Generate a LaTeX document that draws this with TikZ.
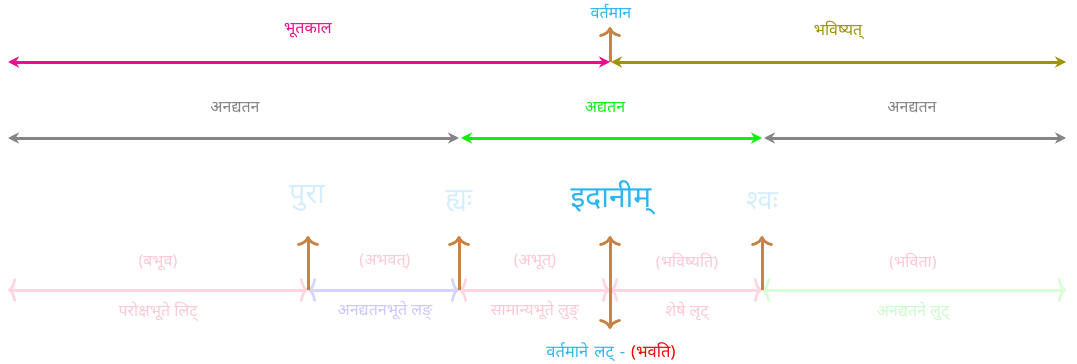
\documentclass[tikz,border=0pt]{standalone}
\usepackage{fontspec}
\setmainfont[Script=Devanagari]{Noto Sans}
\usetikzlibrary{arrows.meta,bending}
\definecolor{bhuta}{HTML}{EE0C8E}
\definecolor{bhav}{HTML}{A09400}
\definecolor{anad}{HTML}{858585}
\definecolor{adya}{HTML}{10F010}
\definecolor{brown}{HTML}{C68444}
\definecolor{vart}{HTML}{2BB5F2}
\definecolor{faint}{HTML}{D4EEFB}
\definecolor{lpink}{HTML}{FFD6DF}
\definecolor{lblue}{HTML}{D4D4FF}
\definecolor{lgreen}{HTML}{D6FFD6}
\definecolor{tpink}{HTML}{FFC8D2}
\definecolor{tblue}{HTML}{C8C8FF}
\definecolor{tgreen}{HTML}{C8FFC8}
\definecolor{tred}{HTML}{F00000}
\tikzset{
  lbl/.style={inner sep=0pt, font=\fontsize{16}{18}\selectfont},
  big/.style={inner sep=0pt, font=\fontsize{29}{32}\selectfont},
  toparrow/.style={line width=3pt, {Stealth[length=11pt,width=11pt,inset=3.5pt]}-{Stealth[length=11pt,width=11pt,inset=3.5pt]}},
  lowarrow/.style={line width=3pt, {Computer Modern Rightarrow[length=8pt,width=24pt,line width=2.6pt]}-{Computer Modern Rightarrow[length=8pt,width=24pt,line width=2.6pt]}},
  tick/.style={line width=3pt, draw=brown, -{Computer Modern Rightarrow[length=10pt,width=22pt,line width=2.8pt]}},
}
\begin{document}
\begin{tikzpicture}[x=1pt,y=-1pt]
\useasboundingbox (0,0) rectangle (1077,364);
% row 1
\coordinate (a0) at (8,62);
\coordinate (a1) at (610,62);
\coordinate (a1b) at (611,62);
\coordinate (a2) at (1066,62);
\coordinate (a1t) at (610,27);
\draw[toparrow, bhuta] (a0) -- (a1);
\draw[toparrow, bhav] (a1b) -- (a2);
\draw[tick] (a1) -- (a1t);
\node[lbl, text=bhuta] (tbhuta) at (308,31) {भूतकाल};
\node[lbl, text=vart] (tvart) at (611,11) {वर्तमान};
\node[lbl, text=bhav] (tbhav) at (838,30) {भविष्यत्};
% row 2
\coordinate (b0) at (8,138);
\coordinate (b1l) at (459,138);
\coordinate (b1r) at (461,138);
\coordinate (b2l) at (762,138);
\coordinate (b2r) at (764,138);
\coordinate (b3) at (1066,138);
\draw[toparrow, anad] (b0) -- (b1l);
\draw[toparrow, adya] (b1r) -- (b2l);
\draw[toparrow, anad] (b2r) -- (b3);
\node[lbl, text=anad] (tan1) at (235,108) {अनद्यतन};
\node[lbl, text=adya] (tadya) at (605,108) {अद्यतन};
\node[lbl, text=anad] (tan2) at (912,108) {अनद्यतन};
% row 3
\node[big, text=faint] (pura) at (307,198) {पुरा};
\node[big, text=faint, font=\fontsize{27}{30}\selectfont] (hyah) at (459,201) {ह्यः};
\node[big, text=vart, font=\fontsize{30}{34}\selectfont] (idanim) at (611,198) {इदानीम्};
\node[big, text=faint, font=\fontsize{27}{30}\selectfont] (shvah) at (762,201) {श्वः};
% row 4
\coordinate (c0) at (8,290);
\coordinate (c1) at (308,290);
\coordinate (c2) at (459,290);
\coordinate (c3) at (610,290);
\coordinate (c4) at (762,290);
\coordinate (c5) at (1066,290);
\coordinate (d1) at (308,236);
\coordinate (d2) at (459,236);
\coordinate (d3) at (610,236);
\coordinate (d3b) at (610,329);
\coordinate (d4) at (762,236);
\draw[lowarrow, lpink] (c0) -- (c1);
\draw[lowarrow, lblue] (c1) -- (c2);
\draw[lowarrow, lpink] (c2) -- (c3);
\draw[lowarrow, lpink] (c3) -- (c4);
\draw[lowarrow, lgreen] (c4) -- (c5);
\draw[tick] (c1) -- (d1);
\draw[tick] (c2) -- (d2);
\draw[tick] (c3) -- (d3);
\draw[tick] (c3) -- (d3b);
\draw[tick] (c4) -- (d4);
\node[lbl, text=tpink] (f1) at (158,263) {(बभूव)};
\node[lbl, text=tpink] (g1) at (158,312) {परोक्षभूते लिट्};
\node[lbl, text=tpink] (f2) at (385,262) {(अभवत्)};
\node[lbl, text=tblue] (g2) at (385,311) {अनद्यतनभूते लङ्};
\node[lbl, text=tpink] (f3) at (535,262) {(अभूत्)};
\node[lbl, text=tpink] (g3) at (535,311) {सामान्यभूते लुङ्};
\node[lbl, text=tpink] (f4) at (687,262) {(भविष्यति)};
\node[lbl, text=tpink] (g4) at (687,311) {शेषे लृट्};
\node[lbl, text=tpink] (f5) at (913,262) {(भविता)};
\node[lbl, text=tgreen] (g5) at (913,311) {अनद्यतने लुट्};
\node[lbl, font=\fontsize{16.5}{18}\selectfont] (vl) at (611,352) {\spaceskip=6pt\relax\textcolor{vart}{वर्तमाने लट् -} \textcolor{tred}{(भवति)}};
\end{tikzpicture}
\end{document}
